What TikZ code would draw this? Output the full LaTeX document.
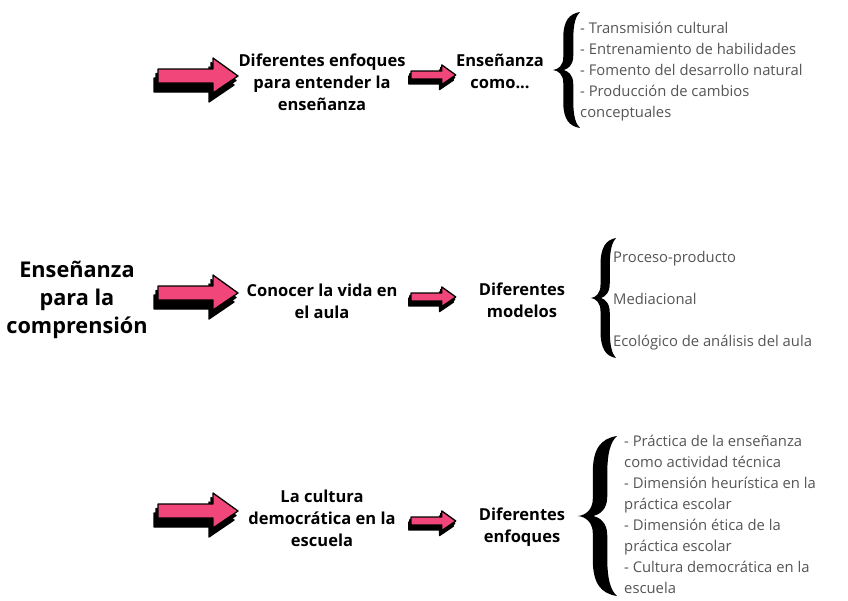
\documentclass[tikz,border=0pt]{standalone}
\usepackage{fontspec}
\setmainfont{Open Sans}
\definecolor{pinkarrow}{RGB}{240,70,122}
\definecolor{listgray}{RGB}{85,85,85}
\newcommand\arrowshape{(0,-7) -- (55,-7) -- (55,-18) -- (80,0) -- (55,17) -- (55,7) -- (0,7) -- cycle}
\newcommand\blockarrow[4]{% x, y, scale, name
  \begin{scope}[shift={(#1,#2)},scale=#3]
    \filldraw[black,line width=1.3pt,line join=round,shift={(-4,9)}] \arrowshape;
    \filldraw[black,line width=1.3pt,line join=round,shift={(-2,4.5)}] \arrowshape;
    \filldraw[fill=pinkarrow,draw=black,line width=1.3pt,line join=round] \arrowshape;
    \coordinate (#4) at (40,0);
  \end{scope}}
\newcommand\bigbrace[5]{% x, y (cusp), width, half height, name
  \begin{scope}[shift={(#1,#2)},xscale=#3,yscale=#4]
    \fill[black] (1,-1)
      .. controls (0.6,-0.97) and (0.38,-0.85) .. (0.38,-0.55)
      -- (0.38,-0.22) .. controls (0.38,-0.08) and (0.2,-0.01) .. (0,0)
      .. controls (0.2,0.01) and (0.38,0.08) .. (0.38,0.22)
      -- (0.38,0.55) .. controls (0.38,0.85) and (0.6,0.97) .. (1,1)
      .. controls (0.84,0.93) and (0.75,0.8) .. (0.75,0.52)
      -- (0.75,0.24) .. controls (0.75,0.08) and (0.55,0.02) .. (0.4,0)
      .. controls (0.55,-0.02) and (0.75,-0.08) .. (0.75,-0.24)
      -- (0.75,-0.52) .. controls (0.75,-0.8) and (0.84,-0.93) .. (1,-1) -- cycle;
    \coordinate (#5) at (0,0);
  \end{scope}}
\tikzset{
  boldtxt/.style={align=center,inner sep=0pt,font=\bfseries\fontsize{16.5}{22}\selectfont},
  titletxt/.style={align=center,inner sep=0pt,font=\bfseries\fontsize{21.7}{28}\selectfont},
  listtxt/.style={align=left,anchor=west,inner sep=0pt,text=listgray,font=\fontsize{14.8}{21}\selectfont}
}
\begin{document}
\begin{tikzpicture}[x=1pt,y=-1pt]
\useasboundingbox (0,0) rectangle (848,600);
% title
\node[titletxt] (title) at (77,300) {Enseñanza\\para la\\comprensión};
% row 1
\blockarrow{158}{76}{1}{a1}
\node[boldtxt] (t1) at (322,82) {Diferentes enfoques\\para entender la\\enseñanza};
\blockarrow{411}{75}{0.56}{b1}
\node[boldtxt] (u1) at (500,71) {Enseñanza\\como...};
\bigbrace{553}{70}{27}{58}{br1}
\node[listtxt] (l1) at (580,72) {- Transmisión cultural\\- Entrenamiento de habilidades\\- Fomento del desarrollo natural\\- Producción de cambios\\conceptuales};
% row 2
\blockarrow{158}{293}{1}{a2}
\node[boldtxt] (t2) at (322,301) {Conocer la vida en\\el aula};
\blockarrow{411}{297}{0.56}{b2}
\node[boldtxt] (u2) at (522,300) {Diferentes\\modelos};
\bigbrace{591}{298}{25}{60}{br2}
\node[listtxt,font=\fontsize{14.8}{42}\selectfont] (l2) at (613,301) {Proceso-producto\\Mediacional\\Ecológico de análisis del aula};
% row 3
\blockarrow{158}{511}{1}{a3}
\node[boldtxt] (t3) at (322,518) {La cultura\\democrática en la\\escuela};
\blockarrow{411}{521}{0.56}{b3}
\node[boldtxt] (u3) at (522,527) {Diferentes\\enfoques};
\bigbrace{578}{516}{39}{80}{br3}
\node[listtxt] (l3) at (624,514) {- Práctica de la enseñanza\\como actividad técnica\\- Dimensión heurística en la\\práctica escolar\\- Dimensión ética de la\\práctica escolar\\- Cultura democrática en la\\escuela};
\end{tikzpicture}
\end{document}
